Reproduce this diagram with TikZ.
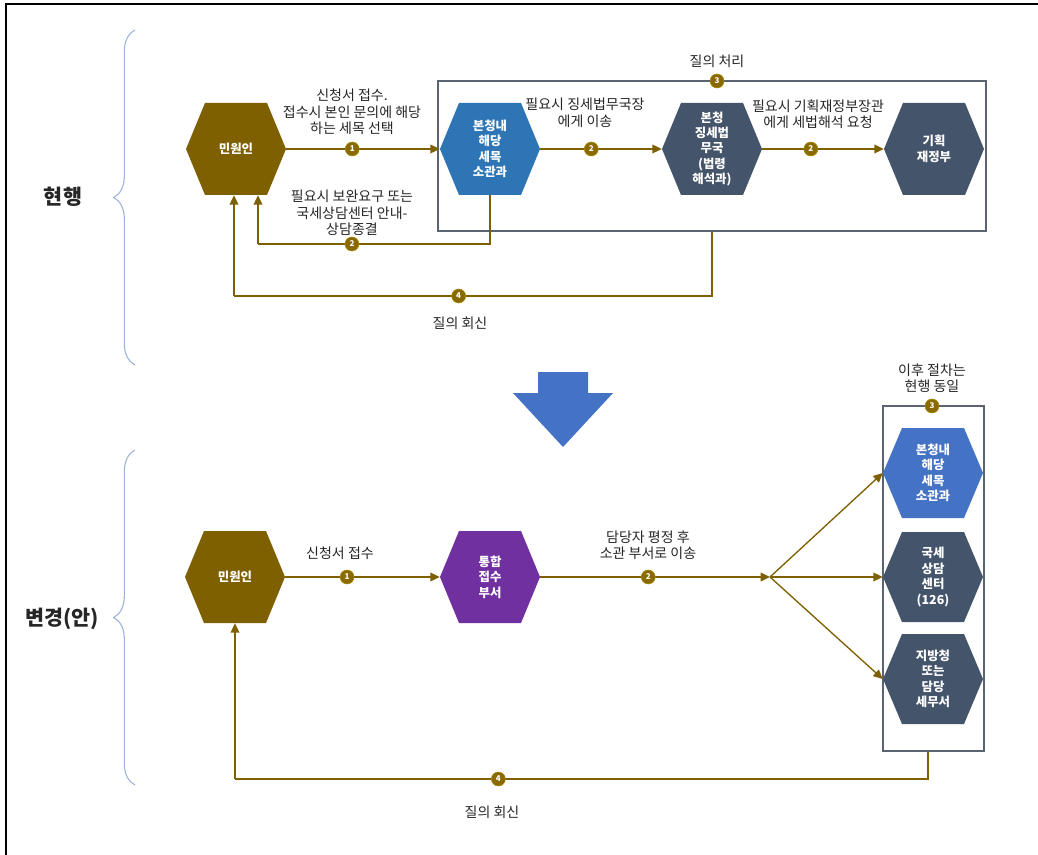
\documentclass[tikz,border=0pt]{standalone}
\usepackage{fontspec}
\setmainfont{Noto Sans CJK KR}
\usetikzlibrary{arrows.meta,calc,decorations.pathreplacing}
\definecolor{cOlive}{HTML}{7F6000}
\definecolor{cBadge}{HTML}{8A6A00}
\definecolor{cBlueA}{HTML}{2E75B6}
\definecolor{cBlueB}{HTML}{4472C4}
\definecolor{cSlate}{HTML}{44546A}
\definecolor{cPurple}{HTML}{7030A0}
\definecolor{cBox}{HTML}{5A6372}
\definecolor{cBrace}{HTML}{9DB3DB}
\tikzset{
  hexnode/.style={minimum width=75pt, minimum height=69pt, inner sep=0pt, text=white, align=center,
    font=\bfseries\fontsize{9.3}{11.6}\selectfont,
    path picture={\fill[#1] (path picture bounding box.west)
      -- ($(path picture bounding box.north west)!0.19!(path picture bounding box.north east)$)
      -- ($(path picture bounding box.north west)!0.81!(path picture bounding box.north east)$)
      -- (path picture bounding box.east)
      -- ($(path picture bounding box.south west)!0.81!(path picture bounding box.south east)$)
      -- ($(path picture bounding box.south west)!0.19!(path picture bounding box.south east)$)
      -- cycle;}},
  smallhex/.style={hexnode=#1, minimum height=67.5pt},
  badge/.style={circle, fill=cBadge, draw=cOlive!70!yellow, line width=0.4pt, inner sep=0pt, minimum size=10.5pt,
    text=white, font=\bfseries\fontsize{6}{6}\selectfont},
  conn/.style={draw=cOlive, line width=1pt, -{Triangle[length=7pt,width=6.5pt]}},
  line/.style={draw=cOlive, line width=1pt},
  lbl/.style={align=center, font=\fontsize{10.5}{12.4}\selectfont, text=black!85},
  side/.style={font=\bfseries\fontsize{15.5}{17}\selectfont, text=black!85},
  grp/.style={draw=cBox, line width=0.8pt, inner sep=0pt},
  bracestyle/.style={draw=cBrace, line width=0.8pt, decorate, decoration={brace, amplitude=16pt, aspect=0.5}},
}
\begin{document}
\begin{tikzpicture}[x=0.75pt,y=-0.75pt]
\useasboundingbox (0,0) rectangle (1038,855);
\fill[white] (0,0) rectangle (1038,855);
% outer frame lines
\draw[black, line width=1.1pt] (6,855) -- (6,4) -- (1038,4);

% braces and side labels
\draw[bracestyle] (135,365) -- (135,30);
\draw[bracestyle] (135,785) -- (135,450);
\node[side] (now) at (63,197) {현행};
\node[side] (plan) at (62,619) {변경(안)};

% ===== Top section =====
\node[grp, minimum width=411pt, minimum height=112.5pt] (box1) at (712,156) {};
\node[hexnode=cOlive] (min1) at (236,149) {민원인};
\node[hexnode=cBlueA] (bon1) at (490,149) {본청내\\해당\\세목\\소관과};
\node[hexnode=cSlate] (jing) at (712,149) {본청\\징세법\\무국\\(법령\\해석과)};
\node[hexnode=cSlate] (gih) at (934,149) {기획\\재정부};

\draw[conn] (min1.east) -- node[badge, pos=0.43] (b11) {1} (bon1.west);
\draw[conn] (bon1.east) -- node[badge, pos=0.42] (b12) {2} (jing.west);
\draw[conn] (jing.east) -- node[badge, pos=0.40] (b13) {2} (gih.west);

\node[lbl] (t11) at (352,112) {신청서 접수.\\접수시 본인 문의에 해당\\하는 세목 선택};
\node[lbl] (t12) at (585,113) {필요시 징세법무국장\\에게 이송};
\node[lbl] (t13) at (818,114) {필요시 기획재정부장관\\에게 세법해석 요청};

\node[badge] (b3) at (717,81) {3};
\node[lbl] (t3) at (717,61) {질의 처리};

% return 2
\coordinate (r2a) at (490,244);
\coordinate (r2b) at (258,244);
\draw[line] (bon1.south) -- (r2a) -- node[badge, pos=0.595] (b22) {2} (r2b);
\draw[conn] (r2b) -- (r2b |- min1.south);
\node[lbl] (t22) at (352,213) {필요시 보완요구 또는\\국세상담센터 안내-\\상담종결};

% return 4
\coordinate (r4s) at (jing |- box1.south);
\coordinate (r4a) at (712,296);
\coordinate (r4b) at (234,296);
\draw[line] (r4s) -- (r4a) -- node[badge, pos=0.53] (b24) {4} (r4b);
\draw[conn] (r4b) -- (r4b |- min1.south);
\node[lbl] (t24) at (460,323) {질의 회신};

% big down arrow
\fill[cBlueB] (538,372) -- (588,372) -- (588,393) -- (613,393) -- (563,447) -- (513,393) -- (538,393) -- cycle;

% ===== Bottom section =====
\node[grp, minimum width=75.75pt, minimum height=258.75pt] (box2) at (933.5,578.5) {};
\node[hexnode=cOlive] (min2) at (235,577) {민원인};
\node[hexnode=cPurple] (tong) at (490,577) {통합\\접수\\부서};
\node[smallhex=cBlueB] (bon2) at (933,473) {본청내\\해당\\세목\\소관과};
\node[smallhex=cSlate] (guk) at (933,577) {국세\\상담\\센터\\(126)};
\node[smallhex=cSlate] (jib) at (933,679) {지방청\\또는\\담당\\세무서};

\coordinate (junc) at (770,577);
\draw[conn] (min2.east) -- node[badge, pos=0.40] (b31) {1} (tong.west);
\draw[conn] (tong.east) -- node[badge, pos=0.47] (b32) {2} (junc);
\draw[conn] (junc) -- (bon2.west);
\draw[conn] (junc) -- (guk.west);
\draw[conn] (junc) -- (jib.west);

\node[lbl] (t31) at (340,553) {신청서 접수};
\node[lbl] (t32) at (648,545) {담당자 평정 후\\소관 부서로 이송};
\node[badge] (b33) at (932,406) {3};
\node[lbl] (t33) at (932,378) {이후 절차는\\현행 동일};

\coordinate (r5s) at ($(box2.south)+(-5.5,0)$);
\coordinate (lvl) at (0,779);
\coordinate (r5a) at (r5s |- lvl);
\coordinate (r5b) at (235,779);
\draw[line] (r5s) -- (r5a) -- node[badge, pos=0.62] (b34) {4} (r5b);
\draw[conn] (r5b) -- (r5b |- min2.south);
\node[lbl] (t34) at (492,812) {질의 회신};
\end{tikzpicture}
\end{document}
